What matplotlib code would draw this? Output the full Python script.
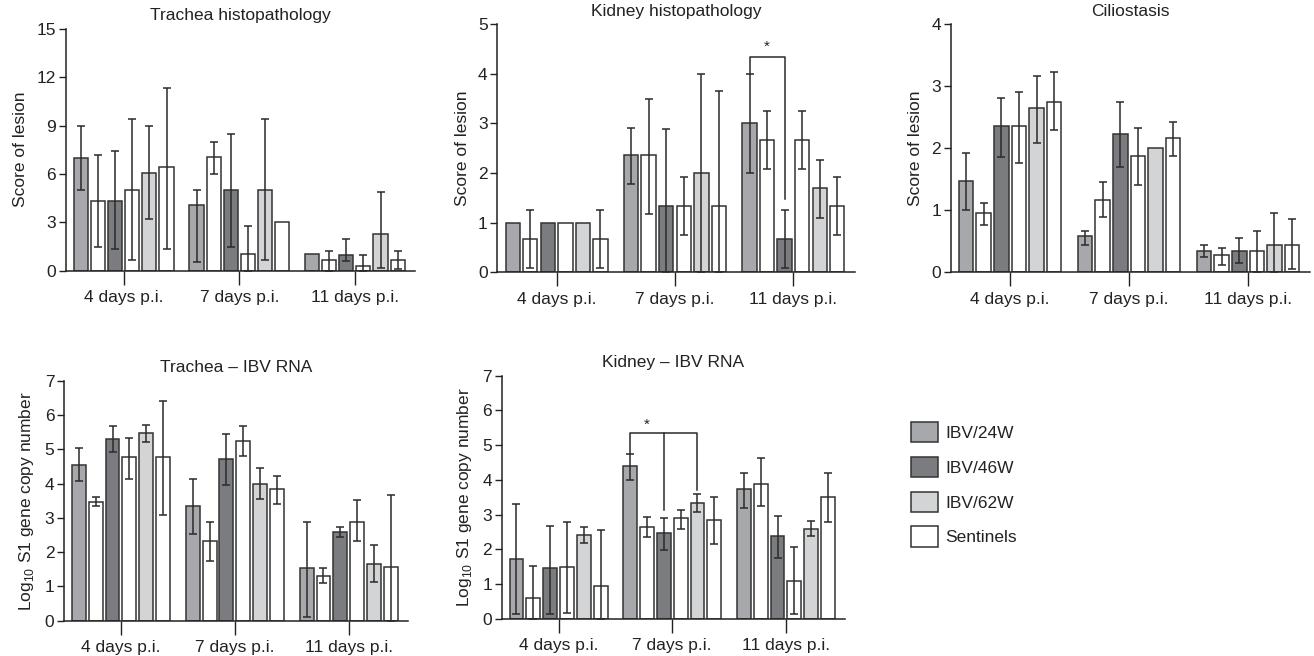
import numpy as np
import matplotlib
matplotlib.use('Agg')
import matplotlib.pyplot as plt
from matplotlib.patches import Patch

plt.rcParams['font.family'] = ['Liberation Sans', 'DejaVu Sans']
plt.rcParams['mathtext.fontset'] = 'custom'
plt.rcParams['mathtext.rm'] = 'Liberation Sans'
plt.rcParams['font.size'] = 12.5
plt.rcParams['text.color'] = '#222222'
plt.rcParams['axes.labelcolor'] = '#222222'
plt.rcParams['xtick.color'] = '#222222'
plt.rcParams['ytick.color'] = '#222222'

days = ['4 days p.i.', '7 days p.i.', '11 days p.i.']
groups = ['IBV/24W', 'IBV/46W', 'IBV/62W', 'Sentinels']
group_colors = ['#a7a8ab', '#7b7c7f', '#d3d4d6', '#ffffff']
# order of bars inside each day
bar_order = [0, 3, 1, 3, 2, 3]

# Trachea histopathology (mean, lower end, upper end of error bar)
th_mean = [[7.0, 4.3, 4.3, 5.0, 6.05, 6.4],
           [4.05, 7.05, 5.0, 1.05, 5.0, 3.05],
           [1.05, 0.65, 1.0, 0.3, 2.3, 0.65]]
th_low = [[5.0, 1.45, 1.35, 0.65, 3.2, 1.35],
          [0.55, 6.0, 1.5, 0.0, 0.65, 3.05],
          [1.05, 0.0, 0.6, 0.0, 0.15, 0.1]]
th_high = [[9.0, 7.2, 7.4, 9.4, 9.0, 11.35],
           [5.0, 8.0, 8.45, 2.75, 9.4, 3.05],
           [1.05, 1.2, 1.95, 0.95, 4.85, 1.2]]

# Kidney histopathology
kh_mean = [[1.0, 0.67, 1.0, 1.0, 1.0, 0.67],
           [2.37, 2.37, 1.33, 1.33, 2.0, 1.33],
           [3.0, 2.67, 0.67, 2.67, 1.7, 1.33]]
kh_low = [[1.0, 0.08, 1.0, 1.0, 1.0, 0.08],
          [1.77, 1.18, 0.0, 0.75, 0.0, 0.0],
          [2.0, 2.09, 0.08, 2.09, 1.09, 0.75]]
kh_high = [[1.0, 1.25, 1.0, 1.0, 1.0, 1.25],
           [2.9, 3.49, 2.88, 1.92, 4.0, 3.65],
           [4.0, 3.24, 1.25, 3.25, 2.26, 1.92]]

# Ciliostasis
ci_mean = [[1.47, 0.95, 2.35, 2.35, 2.65, 2.75],
           [0.58, 1.17, 2.23, 1.87, 2.0, 2.16],
           [0.35, 0.28, 0.34, 0.34, 0.44, 0.44]]
ci_low = [[1.0, 0.76, 1.86, 1.76, 2.08, 2.29],
          [0.44, 0.89, 1.70, 1.40, 2.0, 1.88],
          [0.24, 0.12, 0.15, 0.0, 0.0, 0.05]]
ci_high = [[1.93, 1.11, 2.81, 2.91, 3.17, 3.22],
           [0.67, 1.45, 2.75, 2.32, 2.0, 2.42],
           [0.44, 0.39, 0.55, 0.67, 0.96, 0.86]]

# Trachea - IBV RNA
tr_mean = [[4.53, 3.46, 5.29, 4.76, 5.46, 4.76],
           [3.34, 2.33, 4.71, 5.24, 3.98, 3.83],
           [1.53, 1.31, 2.59, 2.89, 1.66, 1.57]]
tr_low = [[4.07, 3.34, 4.92, 4.14, 5.2, 3.07],
          [2.54, 1.74, 3.96, 4.79, 3.56, 3.41],
          [0.1, 1.09, 2.45, 2.31, 1.14, 0.0]]
tr_high = [[5.03, 3.6, 5.67, 5.34, 5.72, 6.4],
           [4.14, 2.87, 5.45, 5.68, 4.45, 4.23],
           [2.89, 1.54, 2.72, 3.51, 2.22, 3.68]]

# Kidney - IBV RNA
kr_mean = [[1.72, 0.59, 1.46, 1.5, 2.42, 0.94],
           [4.4, 2.64, 2.48, 2.91, 3.35, 2.85],
           [3.73, 3.89, 2.38, 1.1, 2.6, 3.5]]
kr_low = [[0.14, 0.0, 0.14, 0.18, 2.2, 0.0],
          [3.99, 2.37, 1.99, 2.58, 3.07, 2.16],
          [3.2, 3.26, 1.75, 0.14, 2.4, 2.8]]
kr_high = [[3.3, 1.53, 2.68, 2.8, 2.64, 2.55],
           [4.75, 2.93, 2.91, 3.14, 3.59, 3.52],
           [4.21, 4.62, 2.97, 2.08, 2.83, 4.21]]

panels = [
    ('Trachea histopathology', 'Score of lesion', th_mean, th_low, th_high, 15, 3,
     [0.0502, 0.5873, 0.2656, 0.3689]),
    ('Kidney histopathology', 'Score of lesion', kh_mean, kh_low, kh_high, 5, 1,
     [0.3785, 0.5849, 0.2722, 0.3785]),
    ('Ciliostasis', 'Score of lesion', ci_mean, ci_low, ci_high, 4, 1,
     [0.7235, 0.5849, 0.2734, 0.3785]),
    ('Trachea \u2013 IBV RNA', r'Log$_\mathregular{10}$ S1 gene copy number', tr_mean, tr_low, tr_high, 7, 1,
     [0.0487, 0.0538, 0.2618, 0.3659]),
    ('Kidney \u2013 IBV RNA', r'Log$_\mathregular{10}$ S1 gene copy number', kr_mean, kr_low, kr_high, 7, 1,
     [0.3818, 0.0564, 0.2613, 0.3709]),
]

step = 0.148
width = 0.122
edge = '#333333'

fig = plt.figure(figsize=(13.14, 6.56), dpi=100)
axes = []
for title, ylabel, mean, low, high, ymax, ystep, rect in panels:
    ax = fig.add_axes(rect)
    mean = np.array(mean)
    low = np.array(low)
    high = np.array(high)
    for d in range(3):
        for j in range(6):
            x = d + (j - 2.5) * step
            ax.bar(x, mean[d, j], width=width, color=group_colors[bar_order[j]],
                   edgecolor=edge, linewidth=1.1, zorder=2)
            lo = mean[d, j] - low[d, j]
            hi = high[d, j] - mean[d, j]
            if lo > 0 or hi > 0:
                ax.errorbar(x, mean[d, j], yerr=[[lo], [hi]], fmt='none',
                            ecolor='#2a2a2a', elinewidth=1.1, capsize=2.6,
                            capthick=1.1, zorder=3)
    ax.set_xlim(-0.5, 2.52)
    ax.set_ylim(0, ymax)
    ax.set_yticks(np.arange(0, ymax + 0.01, ystep))
    ax.set_xticks(range(3))
    ax.set_xticklabels(days)
    ax.tick_params(axis='x', length=10, width=1, pad=4)
    ax.tick_params(axis='y', length=5, width=1, pad=2)
    for s in ['top', 'right']:
        ax.spines[s].set_visible(False)
    for s in ['left', 'bottom']:
        ax.spines[s].set_linewidth(1.1)
        ax.spines[s].set_color('#222222')
    ax.set_title(title, fontsize=12.5, pad=6)
    ax.set_ylabel(ylabel, labelpad=6)
    axes.append(ax)


def bar_x(d, j):
    return d + (j - 2.5) * step


# significance brackets
ax = axes[1]
xa, xb = bar_x(2, 0), bar_x(2, 2)
ax.plot([xa, xa, xb, xb], [4.0, 4.33, 4.33, 1.47], color='#2a2a2a', lw=1.1, clip_on=False)
ax.text((xa + xb) / 2, 4.4, '*', ha='center', va='bottom', fontsize=11)

ax = axes[4]
xa, xb, xc = bar_x(1, 0), bar_x(1, 2), bar_x(1, 4)
ax.plot([xa, xa, xc, xc], [4.75, 5.34, 5.34, 3.71], color='#2a2a2a', lw=1.1)
ax.plot([xb, xb], [5.34, 3.15], color='#2a2a2a', lw=1.1)
ax.text((xa + xb) / 2, 5.4, '*', ha='center', va='bottom', fontsize=11)

handles = [Patch(facecolor=c, edgecolor=edge, linewidth=1.1) for c in group_colors]
fig.legend(handles, groups, loc='upper left', bbox_to_anchor=(0.693, 0.357),
           frameon=False, fontsize=12.5, handlelength=1.55, handleheight=1.45,
           labelspacing=0.82, handletextpad=0.45, borderpad=0, borderaxespad=0)

plt.savefig('out.png', dpi=100)
